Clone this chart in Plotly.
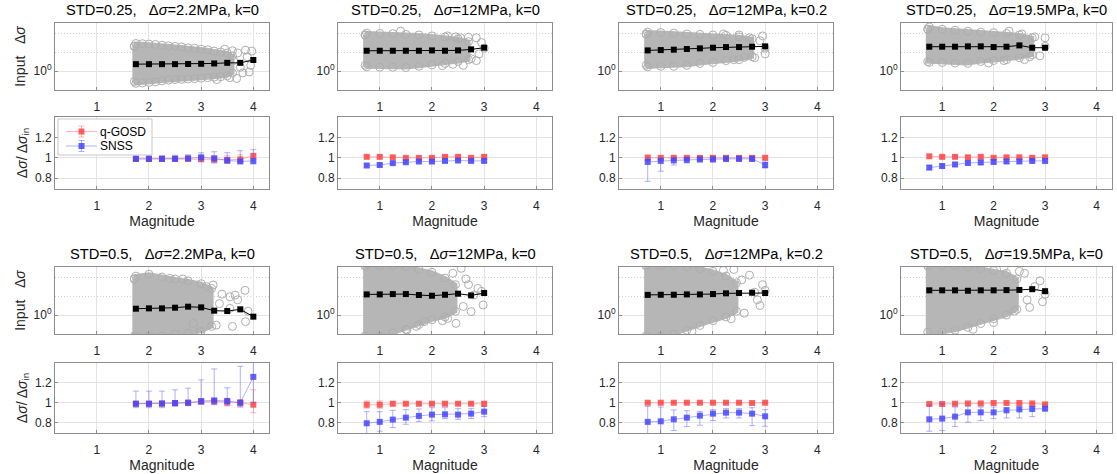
import plotly.graph_objects as go

# ---------------- data ----------------
mags_high = [1.75, 2.0, 2.25, 2.5, 2.75, 3.0, 3.25, 3.5, 3.75, 4.0]
mags_low = [0.75, 1.0, 1.25, 1.5, 1.75, 2.0, 2.25, 2.5, 2.75, 3.0]

titles = [
    "STD=0.25,   Δ<i>σ</i>=2.2MPa, k=0",
    "STD=0.25,   Δ<i>σ</i>=12MPa, k=0",
    "STD=0.25,   Δ<i>σ</i>=12MPa, k=0.2",
    "STD=0.25,   Δ<i>σ</i>=19.5MPa, k=0",
    "STD=0.5,   Δ<i>σ</i>=2.2MPa, k=0",
    "STD=0.5,   Δ<i>σ</i>=12MPa, k=0",
    "STD=0.5,   Δ<i>σ</i>=12MPa, k=0.2",
    "STD=0.5,   Δ<i>σ</i>=19.5MPa, k=0",
]
legend_names = ["q-GOSD", "SNSS"]

# binned median of input stress drop (MPa)
input_median = [
    [2.3, 2.3, 2.3, 2.3, 2.35, 2.4, 2.5, 2.7, 2.7, 3.8],
    [11.7, 11.7, 11.7, 11.7, 11.7, 12.2, 11.7, 12.2, 13.8, 16.9],
    [12.2, 12.7, 13.3, 14.4, 15.6, 16.9, 18.3, 18.3, 19.1, 19.9],
    [19.1, 19.1, 19.1, 19.9, 19.9, 18.3, 19.1, 22.4, 16.9, 16.9],
    [2.15, 2.24, 2.24, 2.43, 2.75, 2.53, 1.69, 1.62, 1.99, 0.82],
    [12.2, 12.2, 12.7, 12.7, 11.3, 10.4, 11.7, 13.3, 10.8, 14.4],
    [11.5, 11.7, 11.7, 12.2, 12.2, 12.7, 13.9, 14.4, 15.0, 14.4],
    [20.0, 20.0, 20.0, 19.0, 20.0, 20.0, 20.5, 21.0, 23.0, 18.0],
]

# outline of the dense event cloud (magnitude, log10 MPa upper / lower edge)
cloud_x = [
    [1.72, 1.75, 1.875, 2.0, 2.125, 2.25, 2.375, 2.5, 2.625, 2.75, 2.875, 3.0, 3.125, 3.25, 3.375, 3.5, 3.6],
    [0.72, 0.75, 1.0, 1.25, 1.5, 1.75, 2.0, 2.25, 2.5, 2.7],
    [0.72, 0.75, 1.0, 1.25, 1.5, 1.75, 2.0, 2.25, 2.5, 2.75],
    [0.72, 0.75, 1.0, 1.25, 1.5, 1.75, 2.0, 2.25, 2.5, 2.75],
    [1.72, 1.75, 2.0, 2.25, 2.5, 2.75, 3.0, 3.2],
    [0.72, 1.0, 1.25, 1.5, 1.75, 2.0, 2.25, 2.45],
    [0.72, 1.0, 1.25, 1.5, 1.75, 2.0, 2.25, 2.45],
    [0.72, 1.0, 1.25, 1.5, 1.75, 2.0, 2.25, 2.45],
]
cloud_hi_log = [
    [1.3, 1.45, 1.44, 1.42, 1.4, 1.36, 1.33, 1.3, 1.27, 1.22, 1.2, 1.15, 1.12, 1.05, 1.0, 0.95, 0.8],
    [1.9, 2.0, 1.98, 1.97, 1.93, 1.9, 1.85, 1.8, 1.7, 1.55],
    [1.95, 2.05, 2.03, 2.0, 1.95, 1.93, 1.9, 1.88, 1.8, 1.7],
    [2.2, 2.32, 2.2, 2.15, 2.1, 2.05, 2.02, 1.98, 1.9, 1.75],
    [1.9, 2.05, 2.15, 2.0, 1.9, 1.8, 1.65, 1.4],
    [2.6, 2.6, 2.6, 2.55, 2.4, 2.25, 1.95, 1.6],
    [2.6, 2.6, 2.6, 2.55, 2.45, 2.3, 2.05, 1.7],
    [2.6, 2.6, 2.6, 2.55, 2.45, 2.35, 2.2, 1.9],
]
cloud_lo_log = [
    [-0.55, -0.65, -0.63, -0.6, -0.57, -0.52, -0.48, -0.45, -0.44, -0.42, -0.4, -0.38, -0.35, -0.32, -0.3, -0.25, -0.1],
    [0.3, 0.22, 0.2, 0.2, 0.18, 0.25, 0.32, 0.4, 0.5, 0.6],
    [0.3, 0.22, 0.25, 0.25, 0.3, 0.4, 0.45, 0.55, 0.6, 0.75],
    [0.5, 0.45, 0.45, 0.42, 0.4, 0.5, 0.55, 0.6, 0.7, 0.85],
    [-1.1, -1.1, -1.1, -1.1, -1.0, -0.95, -0.85, -0.6],
    [-1.1, -1.1, -0.95, -0.75, -0.5, -0.25, -0.1, 0.2],
    [-1.1, -1.1, -1.0, -0.8, -0.55, -0.3, -0.1, 0.2],
    [-0.9, -0.9, -0.8, -0.65, -0.45, -0.2, 0.0, 0.3],
]
# sparse events outside the dense cloud (magnitude, log10 MPa)
sparse_x = [
    [3.6, 3.68, 3.88, 3.95, 3.8, 3.45, 3.3, 3.97, 3.7, 3.75, 3.55, 3.85, 3.92, 3.62],
    [1.4, 2.3, 2.45, 2.55, 2.7, 2.85, 2.95, 2.85, 2.75, 2.4, 2.6, 2.2, 3.0, 2.9],
    [2.2, 2.5, 2.95, 2.8, 2.6, 3.0, 2.4, 2.9, 2.7, 3.0],
    [2.3, 2.55, 2.8, 3.0, 2.6, 2.2, 1.9, 2.9, 2.7, 3.0],
    [2.4, 3.23, 3.55, 3.84, 3.29, 3.6, 3.85, 2.97, 2.85, 3.55, 3.4, 3.7, 3.9, 3.35, 3.65, 2.65, 3.1],
    [2.56, 2.88, 2.98, 2.75, 2.46, 2.3, 1.52, 1.85, 2.8, 2.65, 2.4, 2.95, 2.6, 2.2, 1.7, 2.7],
    [2.4, 2.7, 2.95, 2.9, 2.6, 2.35, 1.6, 2.8, 2.55, 2.85, 3.0, 2.2],
    [2.2, 2.6, 2.9, 2.95, 2.7, 2.4, 2.0, 1.6, 2.8, 2.5, 3.0, 2.65],
]
sparse_y_log = [
    [1.07, -0.39, 0.75, 0.3, -0.1, 1.15, -0.45, 1.05, 0.95, 0.2, -0.35, 1.1, -0.05, 0.55],
    [2.1, 1.85, 1.8, 1.75, 1.78, 1.75, 1.5, 0.55, 0.65, 0.35, 0.3, 0.28, 1.2, 0.9],
    [1.95, 1.9, 1.85, 0.7, 0.72, 0.9, 0.6, 1.6, 1.75, 1.2],
    [2.1, 1.95, 1.8, 1.3, 0.6, 0.55, 0.42, 0.8, 0.75, 1.75],
    [1.93, 1.58, 0.96, 1.3, -0.53, -0.6, -0.35, -0.88, -0.44, 0.35, 1.1, 0.8, 0.2, 0.6, 1.05, 1.9, 1.5],
    [2.46, 1.4, 0.53, 0.18, -0.44, -0.18, -0.79, -0.35, 1.05, 1.9, 2.2, 1.25, 0.45, -0.3, -0.6, 1.6],
    [2.4, 2.1, 1.6, 0.5, 0.1, -0.2, -0.85, 1.2, 1.85, 0.8, 1.3, 2.35],
    [2.5, 2.2, 1.8, 0.7, 0.4, 0.2, -0.4, -0.75, 1.5, 2.3, 1.1, 0.8],
]

# recovered / input stress-drop ratio with error-bar ends
gosd_ratio = [
    [0.99, 0.99, 0.99, 0.99, 0.99, 0.99, 0.985, 0.98, 0.985, 1.02],
    [1.01, 1.01, 1.005, 1.0, 1.0, 1.0, 1.01, 1.01, 1.0, 1.01],
    [1.0, 1.0, 1.0, 1.0, 1.0, 1.0, 1.0, 1.0, 1.0, 1.0],
    [1.015, 1.01, 1.01, 1.005, 1.01, 1.0, 1.005, 1.005, 1.0, 1.005],
    [0.99, 0.99, 0.99, 0.995, 1.0, 1.01, 1.013, 1.007, 1.0, 0.98],
    [0.98, 0.98, 0.99, 0.99, 0.99, 0.99, 0.99, 0.99, 0.99, 0.99],
    [1.0, 1.0, 1.0, 1.0, 1.0, 1.0, 1.0, 1.0, 0.997, 1.0],
    [0.987, 0.987, 0.99, 0.993, 0.993, 0.997, 0.997, 0.997, 0.993, 0.983],
]
gosd_hi = [
    [1.01, 1.01, 1.01, 1.01, 1.015, 1.02, 1.02, 1.02, 1.03, 1.035],
    [1.022, 1.022, 1.017, 1.012, 1.012, 1.012, 1.022, 1.022, 1.012, 1.022],
    [1.03, 1.02, 1.02, 1.02, 1.02, 1.02, 1.02, 1.02, 1.02, 1.02],
    [1.03, 1.025, 1.025, 1.02, 1.025, 1.015, 1.02, 1.02, 1.015, 1.02],
    [1.01, 1.01, 1.01, 1.015, 1.02, 1.025, 1.04, 1.045, 1.03, 1.13],
    [1.017, 1.017, 1.01, 1.005, 1.005, 1.005, 1.005, 1.005, 1.005, 1.005],
    [1.005, 1.005, 1.005, 1.005, 1.005, 1.005, 1.005, 1.005, 1.002, 1.005],
    [0.995, 0.995, 0.997, 1.0, 1.0, 1.003, 1.003, 1.003, 1.0, 0.99],
]
gosd_lo = [
    [0.975, 0.975, 0.975, 0.975, 0.97, 0.965, 0.955, 0.95, 0.95, 0.98],
    [0.998, 0.998, 0.993, 0.988, 0.988, 0.988, 0.998, 0.998, 0.988, 0.998],
    [0.97, 0.98, 0.98, 0.98, 0.98, 0.98, 0.98, 0.98, 0.98, 0.98],
    [1.0, 0.995, 0.995, 0.99, 0.995, 0.985, 0.99, 0.99, 0.985, 0.99],
    [0.97, 0.97, 0.97, 0.975, 0.98, 0.99, 0.985, 0.97, 0.96, 0.90],
    [0.945, 0.945, 0.97, 0.975, 0.975, 0.975, 0.975, 0.975, 0.975, 0.975],
    [0.995, 0.995, 0.995, 0.995, 0.995, 0.995, 0.995, 0.995, 0.992, 0.995],
    [0.978, 0.978, 0.982, 0.986, 0.986, 0.99, 0.99, 0.99, 0.986, 0.975],
]
snss_ratio = [
    [0.99, 0.99, 0.99, 0.99, 0.995, 1.005, 0.995, 0.975, 0.965, 0.97],
    [0.925, 0.93, 0.948, 0.957, 0.964, 0.964, 0.97, 0.974, 0.97, 0.97],
    [0.96, 0.97, 0.975, 0.98, 0.985, 0.985, 0.99, 0.99, 0.99, 0.93],
    [0.905, 0.92, 0.935, 0.95, 0.955, 0.96, 0.965, 0.965, 0.97, 0.97],
    [0.99, 0.99, 0.993, 0.997, 1.0, 1.017, 1.023, 1.017, 1.0, 1.26],
    [0.793, 0.807, 0.83, 0.85, 0.867, 0.88, 0.883, 0.88, 0.89, 0.91],
    [0.807, 0.813, 0.833, 0.85, 0.87, 0.89, 0.90, 0.90, 0.89, 0.863],
    [0.833, 0.84, 0.86, 0.903, 0.903, 0.903, 0.923, 0.933, 0.937, 0.94],
]
snss_hi = [
    [1.02, 1.02, 1.02, 1.025, 1.03, 1.05, 1.06, 1.05, 1.07, 1.08],
    [0.94, 0.945, 0.963, 0.972, 0.979, 0.979, 0.985, 0.989, 0.985, 0.985],
    [1.0, 1.0, 1.0, 1.005, 1.01, 1.01, 1.015, 1.015, 1.015, 0.96],
    [0.925, 0.94, 0.955, 0.97, 0.975, 0.98, 0.985, 0.985, 0.99, 0.99],
    [1.117, 1.117, 1.117, 1.13, 1.147, 1.23, 1.34, 1.15, 1.367, 1.45],
    [0.91, 0.91, 0.923, 0.93, 0.937, 0.95, 0.95, 0.94, 0.94, 0.963],
    [0.963, 0.957, 0.927, 0.92, 0.913, 0.93, 0.94, 0.94, 0.95, 0.93],
    [0.973, 0.99, 0.957, 0.967, 0.957, 0.957, 0.953, 0.963, 0.963, 0.957],
]
snss_lo = [
    [0.97, 0.97, 0.97, 0.97, 0.97, 0.96, 0.95, 0.945, 0.95, 0.94],
    [0.91, 0.915, 0.933, 0.942, 0.949, 0.949, 0.955, 0.959, 0.955, 0.955],
    [0.77, 0.87, 0.93, 0.95, 0.96, 0.96, 0.965, 0.965, 0.965, 0.9],
    [0.885, 0.9, 0.915, 0.93, 0.935, 0.94, 0.945, 0.945, 0.95, 0.95],
    [0.95, 0.95, 0.95, 0.965, 0.97, 0.985, 0.98, 0.97, 0.957, 1.0],
    [0.65, 0.713, 0.75, 0.783, 0.81, 0.817, 0.84, 0.833, 0.84, 0.86],
    [0.6, 0.68, 0.72, 0.76, 0.773, 0.82, 0.847, 0.847, 0.77, 0.763],
    [0.713, 0.72, 0.76, 0.803, 0.82, 0.84, 0.847, 0.847, 0.86, 0.923],
]
panel_mags = [mags_high, mags_low, mags_low, mags_low,
              mags_high, mags_low, mags_low, mags_low]

# ---------------- layout geometry (pixels) ----------------
W, H = 1117, 474
col_px = [(55, 269), (338, 552), (619, 833), (901, 1112)]
top_px = [(23, 90), (267, 334)]      # input panels
bot_px = [(117, 189), (363, 433)]    # ratio panels

FONT = "Liberation Sans, Arial, Helvetica, sans-serif"
TXT = "#262626"
GRID = "#e3e3e3"
AXC = "#8c8c8c"
CLOUD = "rgb(182,182,182)"
CLOUD_EDGE = "rgb(174,174,174)"
RED = "rgba(255,70,70,0.85)"
RED_L = "rgba(255,90,90,0.45)"
BLUE = "rgba(70,70,255,0.85)"
BLUE_L = "rgba(80,80,255,0.45)"


def xdom(c):
    return [col_px[c][0] / W, col_px[c][1] / W]


def ydom(p):
    return [1 - p[1] / H, 1 - p[0] / H]


fig = go.Figure()
layout = {}

for g in range(2):
    for c in range(4):
        k = g * 4 + c
        mags = panel_mags[k]
        ti = g * 8 + c + 1        # input panel axis id
        bi = g * 8 + 4 + c + 1    # ratio panel axis id
        tx, ty = ("x%d" % ti, "y%d" % ti)
        bx, by = ("x%d" % bi, "y%d" % bi)

        # dense event cloud: filled outline with open circles on the edge
        xs = cloud_x[k] + cloud_x[k][::-1] + cloud_x[k][:1]
        ys = ([10 ** v for v in cloud_hi_log[k]] + [10 ** v for v in cloud_lo_log[k][::-1]]
              + [10 ** cloud_hi_log[k][0]])
        fig.add_trace(go.Scatter(x=xs, y=ys, mode="lines+markers", fill="toself",
                                 fillcolor=CLOUD, line=dict(color=CLOUD, width=4),
                                 marker=dict(symbol="circle-open", size=8, color=CLOUD_EDGE,
                                             line=dict(width=1)),
                                 xaxis=tx, yaxis=ty, showlegend=False, hoverinfo="skip"))
        fig.add_trace(go.Scatter(x=sparse_x[k], y=[10 ** v for v in sparse_y_log[k]],
                                 mode="markers",
                                 marker=dict(symbol="circle-open", size=8, color=CLOUD_EDGE,
                                             line=dict(width=1)),
                                 xaxis=tx, yaxis=ty, showlegend=False, cliponaxis=True))
        # binned medians
        fig.add_trace(go.Scatter(x=mags, y=input_median[k], mode="lines+markers",
                                 line=dict(color="black", width=1),
                                 marker=dict(symbol="square", size=6, color="black"),
                                 xaxis=tx, yaxis=ty, showlegend=False))

        # ratio panels
        for name, val, hi, lo, col, coll in [
            (legend_names[0], gosd_ratio[k], gosd_hi[k], gosd_lo[k], RED, RED_L),
            (legend_names[1], snss_ratio[k], snss_hi[k], snss_lo[k], BLUE, BLUE_L),
        ]:
            fig.add_trace(go.Scatter(
                x=mags, y=val, mode="lines+markers", name=name,
                line=dict(color=coll, width=1),
                marker=dict(symbol="square", size=6, color=col),
                error_y=dict(type="data", symmetric=False,
                             array=[h - v for h, v in zip(hi, val)],
                             arrayminus=[v - l for l, v in zip(lo, val)],
                             color=coll, thickness=1, width=3),
                xaxis=bx, yaxis=by, showlegend=False, cliponaxis=True))

        common_x = dict(range=[0.2, 4.3], tickvals=[1, 2, 3, 4], showgrid=True,
                        gridcolor=GRID, gridwidth=1, zeroline=False,
                        showline=True, linecolor=AXC, linewidth=1, mirror=True,
                        ticks="inside", ticklen=3, tickcolor=AXC, ticklabelstandoff=6,
                        tickfont=dict(family=FONT, size=12, color=TXT))
        layout["xaxis%d" % ti] = dict(common_x, domain=xdom(c), anchor=ty)
        layout["xaxis%d" % bi] = dict(common_x, domain=xdom(c), anchor=by,
                                      title=dict(text="Magnitude", standoff=3,
                                                 font=dict(family=FONT, size=14, color=TXT)))
        layout["yaxis%d" % ti] = dict(
            type="log", range=[-1.0, 2.53], domain=ydom(top_px[g]), anchor=tx,
            tickvals=[1], ticktext=["10<sup>0</sup>"], showgrid=True, gridcolor=GRID,
            minor=dict(dtick=1, showgrid=True, gridcolor="#cfcfcf", griddash="1px,2px",
                       ticks=""),
            zeroline=False, showline=True, linecolor=AXC, linewidth=1, mirror=True,
            ticks="inside", ticklen=3, tickcolor=AXC,
            tickfont=dict(family=FONT, size=12, color=TXT))
        layout["yaxis%d" % bi] = dict(
            range=[0.695, 1.4], domain=ydom(bot_px[g]), anchor=bx,
            tickvals=[0.8, 1.0, 1.2], ticktext=["0.8", "1", "1.2"], showgrid=True,
            gridcolor=GRID, zeroline=False, showline=True, linecolor=AXC, linewidth=1,
            mirror=True, ticks="inside", ticklen=3, tickcolor=AXC,
            tickfont=dict(family=FONT, size=12, color=TXT))
        if c == 0:
            layout["yaxis%d" % ti]["title"] = dict(
                text="Input   Δ<i>σ</i>", standoff=4,
                font=dict(family=FONT, size=14, color=TXT))
            layout["yaxis%d" % bi]["title"] = dict(
                text="Δ<i>σ</i>/ Δ<i>σ</i><sub>in</sub>", standoff=4,
                font=dict(family=FONT, size=14, color=TXT))

annotations = []
for g in range(2):
    for c in range(4):
        k = g * 4 + c
        annotations.append(dict(
            text=titles[k], x=(col_px[c][0] + col_px[c][1]) / 2 / W,
            y=1 - (top_px[g][0] - 3) / H, xref="paper", yref="paper",
            xanchor="center", yanchor="bottom", showarrow=False,
            font=dict(family=FONT, size=14.7, color="black")))

# compact legend box inside the first ratio panel
shapes = []
lg_x0, lg_x1, lg_y0, lg_y1 = 58, 152, 119, 155
shapes.append(dict(type="rect", xref="paper", yref="paper",
                   x0=lg_x0 / W, x1=lg_x1 / W, y0=1 - lg_y1 / H, y1=1 - lg_y0 / H,
                   fillcolor="white", line=dict(color="#c8c8c8", width=1), layer="above"))
for name, yc, col, coll in [(legend_names[0], 131.5, RED, RED_L),
                            (legend_names[1], 146, BLUE, BLUE_L)]:
    shapes.append(dict(type="line", xref="paper", yref="paper",
                       x0=66 / W, x1=97 / W, y0=1 - yc / H, y1=1 - yc / H,
                       line=dict(color=coll, width=1), layer="above"))
    shapes.append(dict(type="line", xref="paper", yref="paper",
                       x0=81.5 / W, x1=81.5 / W, y0=1 - (yc + 5.5) / H, y1=1 - (yc - 5.5) / H,
                       line=dict(color=coll, width=1), layer="above"))
    for yy in (yc - 5.5, yc + 5.5):
        shapes.append(dict(type="line", xref="paper", yref="paper",
                           x0=78.5 / W, x1=84.5 / W, y0=1 - yy / H, y1=1 - yy / H,
                           line=dict(color=coll, width=1), layer="above"))
    shapes.append(dict(type="rect", xref="paper", yref="paper",
                       x0=78.5 / W, x1=84.5 / W, y0=1 - (yc + 3) / H, y1=1 - (yc - 3) / H,
                       fillcolor=col, line=dict(width=0), layer="above"))
    annotations.append(dict(text=name, x=98 / W, y=1 - yc / H, xref="paper", yref="paper",
                            xanchor="left", yanchor="middle", showarrow=False,
                            font=dict(family=FONT, size=12, color="black")))

fig.update_layout(
    width=W, height=H, margin=dict(l=0, r=0, t=0, b=0),
    paper_bgcolor="white", plot_bgcolor="white",
    annotations=annotations, shapes=shapes, showlegend=False,
    **layout,
)

fig.write_html("out.html")
